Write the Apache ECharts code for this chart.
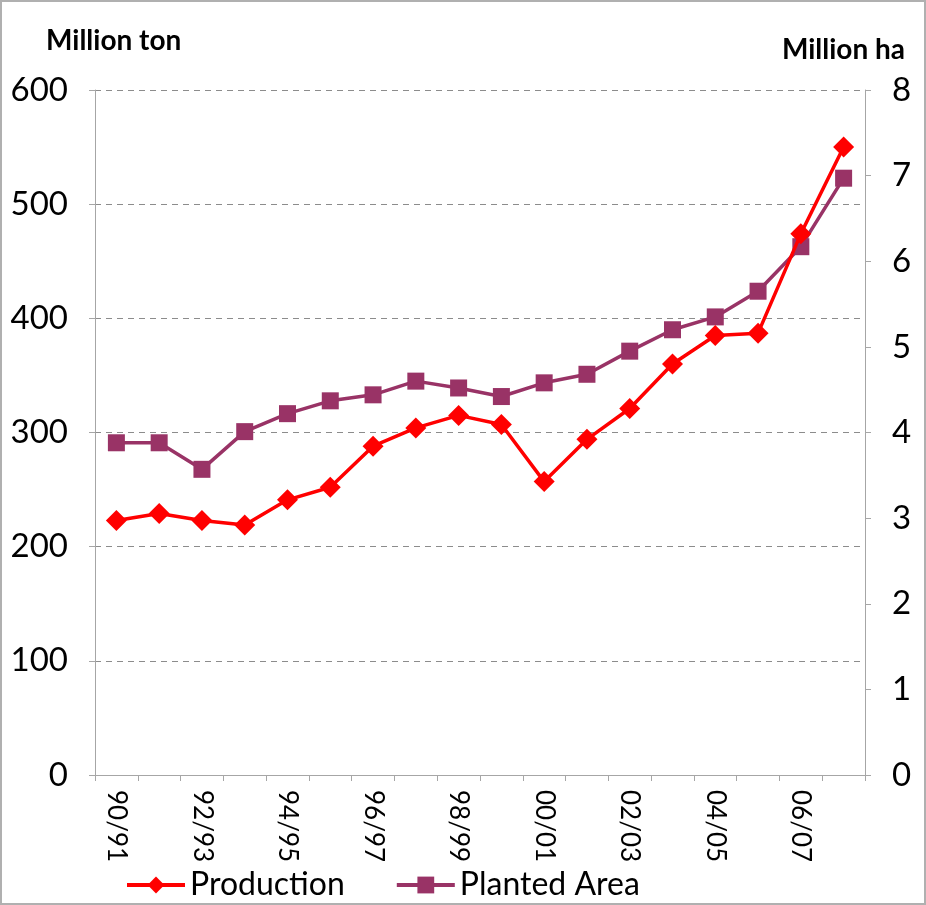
<!DOCTYPE html>
<html>
<head>
<meta charset="utf-8">
<script src="https://cdn.jsdelivr.net/npm/echarts@6/dist/echarts.min.js"></script>
<style>
html,body{margin:0;padding:0;background:#fff;}
#c{width:926px;height:905px;box-sizing:border-box;border:2px solid #b0b0b0;}
</style>
</head>
<body>
<div id="c"></div>
<script>
var categories = ['90/91','91/92','92/93','93/94','94/95','95/96','96/97','97/98','98/99','99/00','00/01','01/02','02/03','03/04','04/05','05/06','06/07','07/08'];
var production = [223,229,223,219,241,252,288,304,315,307,257,294,321,360,385,387,474,550];
var plantedArea = [3.88,3.88,3.57,4.01,4.22,4.37,4.44,4.60,4.52,4.42,4.58,4.68,4.95,5.20,5.35,5.65,6.17,6.97];
var leftTicks = {min:0,max:600,interval:100};
var rightTicks = {min:0,max:8,interval:1};

var chart = echarts.init(document.getElementById('c'));
var font = 'Lato, "Open Sans", sans-serif';
chart.setOption({
  animation:false,
  backgroundColor:'#fff',
  textStyle:{fontFamily:font},
  title:[
    {text:'Million ton',left:39,top:20,textStyle:{fontFamily:font,fontSize:28,fontWeight:'bold',color:'#000'}},
    {text:'Million ha',right:14,top:29,textStyle:{fontFamily:font,fontSize:28,fontWeight:'bold',color:'#000'}}
  ],
  legend:{
    bottom:-3,left:118,itemWidth:58,itemHeight:21,itemGap:50,
    lineStyle:{width:4},
    textStyle:{fontFamily:font,fontSize:32,color:'#000'},
    data:['Production','Planted Area']
  },
  grid:{left:93,right:59,top:88,bottom:128,containLabel:false},
  xAxis:{
    type:'category',data:categories,boundaryGap:true,
    axisLine:{lineStyle:{color:'#a6a6a6',width:1}},
    axisTick:{show:true,alignWithLabel:false,interval:0,length:6,lineStyle:{color:'#a6a6a6'}},
    axisLabel:{interval:1,rotate:-90,fontSize:26,color:'#000',margin:15,fontFamily:font}
  },
  yAxis:[
    {type:'value',min:leftTicks.min,max:leftTicks.max,interval:leftTicks.interval,position:'left',
     axisLine:{show:true,lineStyle:{color:'#a6a6a6'}},
     axisTick:{show:true,length:6,lineStyle:{color:'#a6a6a6'}},
     axisLabel:{fontSize:33,color:'#000',margin:27,fontFamily:font},
     splitLine:{show:true,lineStyle:{color:'#8c8c8c',type:[6,5],width:1}}},
    {type:'value',min:rightTicks.min,max:rightTicks.max,interval:rightTicks.interval,position:'right',
     axisLine:{show:true,lineStyle:{color:'#a6a6a6'}},
     axisTick:{show:true,length:6,lineStyle:{color:'#a6a6a6'}},
     axisLabel:{fontSize:33,color:'#000',margin:27,fontFamily:font},
     splitLine:{show:false}}
  ],
  series:[
    {name:'Production',type:'line',yAxisIndex:0,data:production,
     symbol:'diamond',symbolSize:21,lineStyle:{color:'#ff0000',width:3.5},
     itemStyle:{color:'#ff0000'},z:3},
    {name:'Planted Area',type:'line',yAxisIndex:1,data:plantedArea,
     symbol:'rect',symbolSize:17,lineStyle:{color:'#993366',width:3.5},
     itemStyle:{color:'#993366'},z:2}
  ]
});
</script>
</body>
</html>
